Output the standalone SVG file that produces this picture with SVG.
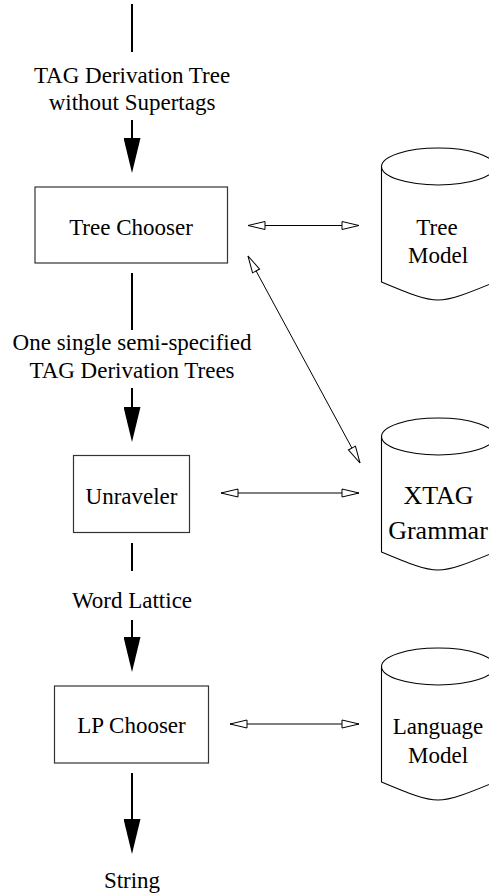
<svg xmlns="http://www.w3.org/2000/svg" width="489" height="895" viewBox="0 0 489 895">
<style>
text{font-family:"Liberation Serif","Times New Roman",serif;font-size:23px;fill:#000;text-anchor:middle}
.big{font-size:26px}
.box{fill:#fff;stroke:#333;stroke-width:1.2}
.cyl{fill:#fff;stroke:#000;stroke-width:1.1}
.flow{stroke:#000;stroke-width:2;fill:none}
.link{stroke:#000;stroke-width:1;fill:none}
</style>
<defs>
<marker id="solid" markerUnits="userSpaceOnUse" viewBox="0 0 35 17" refX="31" refY="8.5" markerWidth="35" markerHeight="17" orient="auto">
<path d="M0,0 L35,8.5 L0,17 z" fill="#000"/>
</marker>
<marker id="open" markerUnits="userSpaceOnUse" viewBox="-1 -1 19 10" refX="17" refY="4" markerWidth="19" markerHeight="10" orient="auto-start-reverse">
<path d="M0,0 L17,4 L0,8 z" fill="#fff" stroke="#000" stroke-width="1"/>
</marker>
<g id="cylshape">
<path class="cyl" d="M381.5,18.5 L381.5,134 C410,146 425,152 438,152 C451,152 466,146 495,134 L495,18.5"/>
<ellipse class="cyl" cx="438.25" cy="18.5" rx="56.75" ry="18.5"/>
</g>
</defs>

<g id="connectors">
<line class="flow" x1="132" y1="4" x2="132" y2="52"/>
<line class="flow" x1="132" y1="120" x2="132" y2="169" marker-end="url(#solid)"/>
<line class="flow" x1="132" y1="273" x2="132" y2="330"/>
<line class="flow" x1="132" y1="388" x2="132" y2="438" marker-end="url(#solid)"/>
<line class="flow" x1="132" y1="543" x2="132" y2="571"/>
<line class="flow" x1="132" y1="620" x2="132" y2="668" marker-end="url(#solid)"/>
<line class="flow" x1="132" y1="773" x2="132" y2="850" marker-end="url(#solid)"/>
<line class="link" x1="248" y1="225.5" x2="359" y2="225.5" marker-start="url(#open)" marker-end="url(#open)"/>
<line class="link" x1="248" y1="256" x2="360" y2="463" marker-start="url(#open)" marker-end="url(#open)"/>
<line class="link" x1="221" y1="493" x2="359" y2="493" marker-start="url(#open)" marker-end="url(#open)"/>
<line class="link" x1="230" y1="724" x2="359" y2="724" marker-start="url(#open)" marker-end="url(#open)"/>
</g>

<g id="label-input">
<text x="132" y="83">TAG Derivation Tree</text>
<text x="132" y="110">without Supertags</text>
</g>

<g id="tree-chooser">
<rect class="box" x="35" y="187" width="192.5" height="76"/>
<text x="131" y="235">Tree Chooser</text>
</g>

<g id="tree-model">
<use href="#cylshape" transform="translate(0,148)"/>
<text x="437" y="235">Tree</text>
<text x="438" y="263">Model</text>
</g>

<g id="label-semi">
<text x="132" y="350">One single semi-specified</text>
<text x="132" y="378">TAG Derivation Trees</text>
</g>

<g id="unraveler">
<rect class="box" x="73.5" y="455.5" width="116" height="77"/>
<text x="131.5" y="504">Unraveler</text>
</g>

<g id="xtag-grammar">
<use href="#cylshape" transform="translate(0,418)"/>
<text class="big" x="438.5" y="504">XTAG</text>
<text class="big" x="438" y="539">Grammar</text>
</g>

<g id="label-lattice">
<text x="132" y="608">Word Lattice</text>
</g>

<g id="lp-chooser">
<rect class="box" x="54.5" y="686" width="154" height="77"/>
<text x="131.5" y="733">LP Chooser</text>
</g>

<g id="language-model">
<use href="#cylshape" transform="translate(0,648)"/>
<text x="438" y="734">Language</text>
<text x="438" y="763">Model</text>
</g>

<g id="label-string">
<text x="132" y="888">String</text>
</g>
</svg>
